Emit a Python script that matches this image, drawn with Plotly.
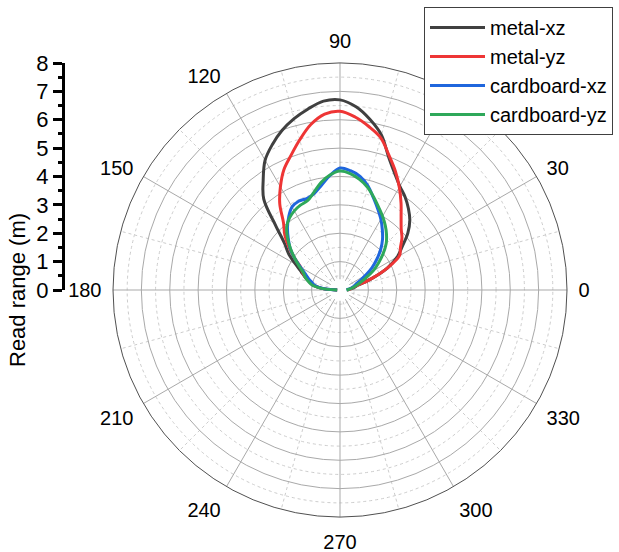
import plotly.graph_objects as go

# ---------------- data ----------------
theta = list(range(0, 181, 5))

metal_xz = [0.25, 0.35, 0.50, 0.65, 1.20, 1.85, 2.33, 2.68, 3.12, 3.48, 3.75, 4.00, 4.22,
            4.55, 5.00, 5.65, 6.10, 6.48, 6.70, 6.68, 6.48, 6.25, 5.98, 5.65, 5.28, 4.72,
            4.18, 3.20, 2.55, 2.20, 1.80, 1.50, 1.30, 1.12, 0.95, 0.65, 0.10]

metal_yz = [0.25, 0.35, 0.45, 0.65, 1.20, 1.85, 2.42, 2.60, 2.85, 3.05, 3.35, 3.75, 4.18,
            4.62, 5.05, 5.55, 5.85, 6.12, 6.30, 6.22, 5.92, 5.48, 5.05, 4.68, 4.20, 3.70,
            3.10, 2.75, 2.35, 1.95, 1.60, 1.45, 1.30, 1.12, 0.95, 0.65, 0.10]

cardboard_xz = [0.23, 0.30, 0.40, 0.50, 0.60, 0.77, 1.05, 1.38, 1.70, 2.03, 2.33, 2.60, 2.88,
                3.15, 3.45, 3.80, 4.07, 4.22, 4.30, 4.05, 3.75, 3.52, 3.43, 3.45, 3.38, 3.15,
                2.88, 2.58, 2.30, 1.95, 1.60, 1.35, 1.18, 1.02, 0.90, 0.60, 0.10]

cardboard_yz = [0.23, 0.33, 0.45, 0.58, 0.75, 1.00, 1.35, 1.65, 1.98, 2.30, 2.55, 2.78, 3.00,
                3.22, 3.48, 3.75, 3.96, 4.12, 4.19, 4.07, 3.85, 3.56, 3.35, 3.30, 3.22, 3.10,
                2.92, 2.62, 2.28, 1.95, 1.65, 1.42, 1.30, 1.15, 1.00, 0.65, 0.10]

series_names = ["metal-xz", "metal-yz", "cardboard-xz", "cardboard-yz"]
series_values = [metal_xz, metal_yz, cardboard_xz, cardboard_yz]
series_colors = ["#404040", "#ee3535", "#1f66dd", "#2ea85a"]

angle_ticks = list(range(0, 360, 30))
angle_labels = [str(a) for a in angle_ticks]
angle_minor = list(range(15, 360, 30))
r_ticks = list(range(0, 9))
r_minor = [k + 0.5 for k in range(0, 8)]
r_max = 8
hub_r = 0.38

FONT = "Arial, Liberation Sans, sans-serif"
W, H = 619, 552
cx, cy, R = 340, 290, 227

fig = go.Figure()

# dummy trace so the lower (dashed grid) polar is drawn
fig.add_trace(go.Scatterpolar(r=[r_max], theta=[0], mode="markers", marker=dict(opacity=0),
                              subplot="polar", showlegend=False, hoverinfo="skip"))

# white hub at the centre
hub_theta = list(range(0, 361, 6))
fig.add_trace(go.Scatterpolar(r=[hub_r] * len(hub_theta), theta=hub_theta, mode="lines",
                              fill="toself", fillcolor="white",
                              line=dict(width=0, color="white"),
                              subplot="polar2", showlegend=False, hoverinfo="skip"))

for name, vals, col in zip(series_names, series_values, series_colors):
    fig.add_trace(go.Scatterpolar(r=vals, theta=theta, mode="lines", name=name,
                                  line=dict(color=col, width=3, shape="spline", smoothing=1.0),
                                  subplot="polar2"))

# vertical radial scale on the left
fig.add_trace(go.Scatter(x=[0], y=[0], mode="markers", marker=dict(opacity=0),
                         showlegend=False, hoverinfo="skip", xaxis="x", yaxis="y"))

dom_x = [(cx - R) / W, (cx + R) / W]
dom_y = [1 - (cy + R) / H, 1 - (cy - R) / H]

common_radial = dict(range=[0, r_max], showticklabels=False, ticks="", showline=False)

fig.update_layout(
    width=W, height=H,
    margin=dict(l=0, r=0, t=0, b=0, autoexpand=False),
    paper_bgcolor="white",
    plot_bgcolor="rgba(0,0,0,0)",
    font=dict(family=FONT, size=20, color="black"),
    polar=dict(
        domain=dict(x=dom_x, y=dom_y),
        bgcolor="white",
        angularaxis=dict(direction="counterclockwise", rotation=0,
                         tickmode="array", tickvals=angle_minor,
                         showticklabels=False, ticks="", showline=False,
                         gridcolor="#cdcdcd", griddash="3px,3px", gridwidth=1),
        radialaxis=dict(tickmode="array", tickvals=r_minor, gridcolor="#cdcdcd",
                        griddash="3px,3px", gridwidth=1, **common_radial),
    ),
    polar2=dict(
        domain=dict(x=dom_x, y=dom_y),
        bgcolor="rgba(0,0,0,0)",
        angularaxis=dict(direction="counterclockwise", rotation=0,
                         tickmode="array", tickvals=angle_ticks, ticktext=angle_labels,
                         tickfont=dict(size=20, family=FONT, color="black"),
                         ticks="outside", ticklen=7, tickcolor="rgba(0,0,0,0)",
                         showline=True, linecolor="#505050", linewidth=1,
                         gridcolor="#a9a9a9", gridwidth=1),
        radialaxis=dict(tickmode="array", tickvals=r_ticks, gridcolor="#a9a9a9", gridwidth=1,
                        **common_radial),
    ),
    xaxis=dict(visible=False, domain=[0.0, 0.05], range=[-1, 1]),
    yaxis=dict(domain=[1 - cy / H, 1 - (cy - R) / H], range=[0, r_max],
               anchor="free", position=63 / W, side="left",
               tickmode="array", tickvals=r_ticks, ticks="outside", ticklen=9, tickwidth=2.5,
               tickcolor="black", showline=True, linecolor="black", linewidth=3,
               showgrid=False, zeroline=False, tickfont=dict(size=22, family=FONT),
               minor=dict(dtick=0.5, ticks="outside", ticklen=4, tickwidth=2.5,
                          tickcolor="black", showgrid=False)),
    legend=dict(x=424 / W, y=1.0 - 7 / H, xanchor="left", yanchor="top",
                bgcolor="white", bordercolor="#404040", borderwidth=1,
                font=dict(size=20, family=FONT), itemwidth=55, tracegroupgap=0),
    annotations=[dict(text="Read range (m)", xref="paper", yref="paper",
                      x=17 / W, y=1 - 290 / H, xanchor="center", yanchor="middle",
                      textangle=-90, showarrow=False,
                      font=dict(size=22, family=FONT))],
)

fig.write_html("out.html")
